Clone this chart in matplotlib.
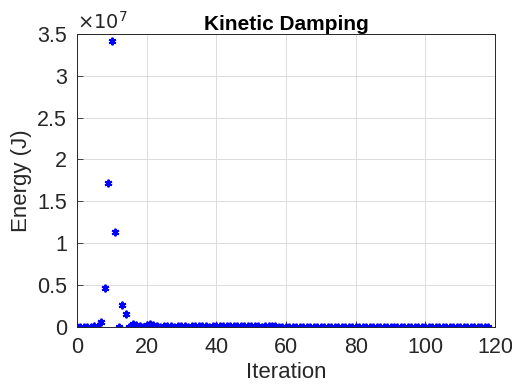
import numpy as np
import matplotlib
matplotlib.use("Agg")
import matplotlib.pyplot as plt

plt.rcParams['font.family'] = ['Liberation Sans', 'DejaVu Sans']

# Energy values in units of 1e7 J, iteration 0..118
energy_e7 = [
    0.0, 0.0, 0.0, 0.0, 0.0, 0.005, 0.01, 0.06, 0.47, 1.72,
    3.42, 1.13, 0.0, 0.26, 0.15, 0.0, 0.04, 0.02, 0.01, 0.0,
    0.02, 0.03, 0.02, 0.01, 0.0, 0.005, 0.01, 0.005, 0.0, 0.005,
    0.01, 0.005, 0.0, 0.005, 0.01, 0.005, 0.01, 0.005, 0.0, 0.005,
    0.01, 0.01, 0.005, 0.01, 0.005, 0.01, 0.01, 0.005, 0.01, 0.005,
    0.005, 0.01, 0.005, 0.0, 0.005, 0.01, 0.01, 0.005, 0.0, 0.0,
]
energy_e7 += [0.0] * (119 - len(energy_e7))
iterations = np.arange(len(energy_e7))
energy = np.array(energy_e7) * 1e7

x_ticks = [0, 20, 40, 60, 80, 100, 120]
y_ticks_e7 = [0, 0.5, 1, 1.5, 2, 2.5, 3, 3.5]
y_tick_labels = ['0', '0.5', '1', '1.5', '2', '2.5', '3', '3.5']

fig = plt.figure(figsize=(5.12, 3.85), dpi=100)
ax = fig.add_axes([0.150, 0.151, 0.817, 0.761])
ax.plot(iterations, energy, linestyle='none', marker=(6, 2, 0), color='#0000ff',
        markersize=5.5, markeredgewidth=1.4)

ax.set_xlim(0, 120)
ax.set_ylim(0, 3.5e7)
ax.set_xticks(x_ticks)
ax.set_yticks([v * 1e7 for v in y_ticks_e7])
ax.set_yticklabels(y_tick_labels)
ax.grid(True, color='#dcdcdc', linewidth=0.7)
ax.set_axisbelow(True)
ax.tick_params(direction='in', labelsize=15.5, length=4, colors='#262626',
               labelcolor='#262626', width=0.6)
ax.tick_params(axis='x', pad=7)
ax.tick_params(axis='y', pad=7)
for s in ax.spines.values():
    s.set_linewidth(0.7)
    s.set_color('#262626')

ax.set_xlabel('Iteration', fontsize=16, color='#262626', labelpad=3)
ax.set_ylabel('Energy (J)', fontsize=16, color='#262626', labelpad=4)
ax.set_title('Kinetic Damping', fontsize=15, fontweight='bold', pad=3)
ax.text(0.0, 1.005, r'$\times10^{7}$', transform=ax.transAxes, fontsize=14,
        color='#262626', ha='left', va='bottom',
        math_fontfamily='dejavusans')

fig.savefig('out.png', dpi=100)
